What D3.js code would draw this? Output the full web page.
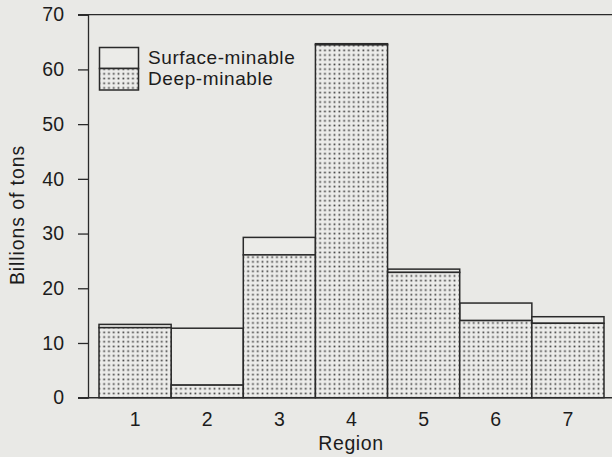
<!DOCTYPE html>
<html>
<head>
<meta charset="utf-8">
<script src="https://cdn.jsdelivr.net/npm/d3@7"></script>
<style>
  html, body { margin: 0; padding: 0; background: #e9e9e6; }
  svg { display: block; }
  text { font-family: "Liberation Sans", Arial, sans-serif; fill: #1c1c1c; }
</style>
</head>
<body>
<div id="chart"></div>
<script>
"use strict";

// data (billions of tons)
var regions = ["1", "2", "3", "4", "5", "6", "7"];
var deepMinable = [12.8, 2.3, 26.1, 64.5, 22.9, 14.1, 13.6];
var totalReserve = [13.4, 12.7, 29.3, 64.7, 23.5, 17.3, 14.8];
var yTicks = [0, 10, 20, 30, 40, 50, 60, 70];
var legendLabels = ["Surface-minable", "Deep-minable"];

var width = 612, height = 457;
var ink = "#2a2a2a";

var svg = d3.select("#chart")
    .append("svg")
    .attr("width", width)
    .attr("height", height);

var defs = svg.append("defs");
var pat = defs.append("pattern")
    .attr("id", "dots")
    .attr("patternUnits", "userSpaceOnUse")
    .attr("width", 4.8)
    .attr("height", 4.7)
    .attr("x", 1)
    .attr("y", 1);
pat.append("rect")
    .attr("width", 4.8).attr("height", 4.7)
    .attr("fill", "#ececea");
pat.append("rect")
    .attr("x", 1.5).attr("y", 1.5)
    .attr("width", 1.7).attr("height", 1.7)
    .attr("fill", "#3c3c3c");

var x = d3.scaleBand()
    .domain(regions)
    .range([99, 604])
    .padding(0);

var y = d3.scaleLinear()
    .domain([0, 70])
    .range([397.7, 14.7]);

// y axis
var yAxis = svg.append("g")
    .attr("transform", "translate(88,0)")
    .call(d3.axisLeft(y).tickValues(yTicks).tickSize(10).tickPadding(14));
yAxis.select(".domain").attr("stroke", ink).attr("stroke-width", 1.3);
yAxis.selectAll(".tick line").attr("stroke", ink).attr("stroke-width", 1.3);
yAxis.selectAll(".tick text")
    .attr("fill", "#1c1c1c")
    .style("font-size", "19.5px")
    .style("font-family", "'Liberation Sans', Arial, sans-serif");

// top line and baseline
svg.append("line")
    .attr("x1", 78).attr("x2", width)
    .attr("y1", y(70)).attr("y2", y(70))
    .attr("stroke", ink).attr("stroke-width", 1.3);
svg.append("line")
    .attr("x1", 78).attr("x2", width)
    .attr("y1", y(0)).attr("y2", y(0))
    .attr("stroke", ink).attr("stroke-width", 1.5);

// surface-minable part (plain)
svg.append("g").selectAll("rect")
    .data(regions)
    .enter().append("rect")
    .attr("x", function (d) { return x(d); })
    .attr("width", x.bandwidth())
    .attr("y", function (d, i) { return y(totalReserve[i]); })
    .attr("height", function (d, i) { return y(deepMinable[i]) - y(totalReserve[i]); })
    .attr("fill", "#ebebe8")
    .attr("stroke", ink)
    .attr("stroke-width", 1.5);

// deep-minable part (dotted)
svg.append("g").selectAll("rect")
    .data(regions)
    .enter().append("rect")
    .attr("x", function (d) { return x(d); })
    .attr("width", x.bandwidth())
    .attr("y", function (d, i) { return y(deepMinable[i]); })
    .attr("height", function (d, i) { return y(0) - y(deepMinable[i]); })
    .attr("fill", "url(#dots)")
    .attr("stroke", ink)
    .attr("stroke-width", 1.5);

// x tick labels
svg.append("g").selectAll("text")
    .data(regions)
    .enter().append("text")
    .attr("x", function (d) { return x(d) + x.bandwidth() / 2; })
    .attr("y", 426)
    .attr("text-anchor", "middle")
    .style("font-size", "19.5px")
    .text(function (d) { return d; });

svg.append("text")
    .attr("x", 351)
    .attr("y", 450)
    .attr("text-anchor", "middle")
    .style("font-size", "19.5px")
    .style("letter-spacing", "0.6px")
    .text("Region");

svg.append("text")
    .attr("transform", "translate(24,215) rotate(-90)")
    .attr("text-anchor", "middle")
    .style("font-size", "19.5px")
    .style("letter-spacing", "0.9px")
    .text("Billions of tons");

// legend
var legend = svg.append("g");
legend.append("rect")
    .attr("x", 99.5).attr("y", 47.5)
    .attr("width", 39).attr("height", 21)
    .attr("fill", "#ebebe8")
    .attr("stroke", ink).attr("stroke-width", 1.5);
legend.append("rect")
    .attr("x", 99.5).attr("y", 68.5)
    .attr("width", 39).attr("height", 21.5)
    .attr("fill", "url(#dots)")
    .attr("stroke", ink).attr("stroke-width", 1.5);
legend.selectAll("text.lg")
    .data(legendLabels)
    .enter().append("text")
    .attr("class", "lg")
    .attr("x", 148)
    .attr("y", function (d, i) { return 64 + i * 21; })
    .style("font-size", "19px")
    .style("letter-spacing", "0.6px")
    .text(function (d) { return d; });
</script>
</body>
</html>
